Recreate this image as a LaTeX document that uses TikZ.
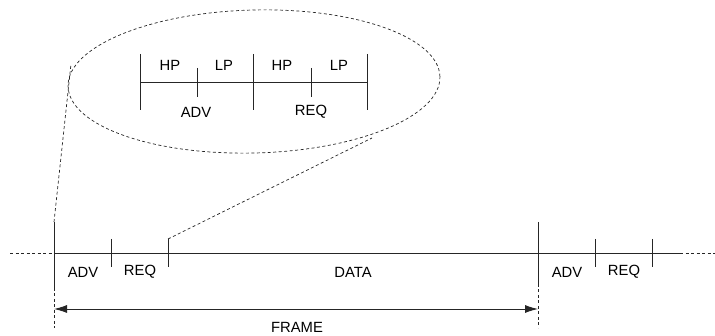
\documentclass[tikz,border=0pt]{standalone}
\usepackage{fontspec}
\setmainfont{Liberation Sans}
\usetikzlibrary{arrows.meta,shapes.geometric}
\begin{document}
\begin{tikzpicture}[x=1pt,y=-1pt,
  line/.style={line width=0.9pt,draw=black!85},
  dashline/.style={line width=0.7pt,draw=black!85,dash pattern=on 3pt off 2.5pt},
  lbl/.style={inner sep=0pt,font=\fontsize{14.8}{16}\selectfont},
  span/.style={line width=0.9pt,draw=black!85,{Latex[length=13pt,width=8pt]}-{Latex[length=13pt,width=8pt]}}]
\useasboundingbox (0,0) rectangle (715,336);

% main time line
\coordinate (lineL) at (10,253);
\coordinate (f0) at (54,253);
\coordinate (f1) at (538,253);
\coordinate (lineR) at (680,253);
\coordinate (lineE) at (715,253);
\draw[dashline] (lineL) -- (f0);
\draw[line] (f0) -- (lineR);
\draw[dashline] (lineR) -- (lineE);

% frame boundaries
\coordinate (f0top) at (54,222);
\coordinate (f0mid) at (54,288);
\coordinate (f0bot) at (54,328);
\coordinate (f1top) at (538,222);
\coordinate (f1mid) at (538,284);
\coordinate (f1bot) at (538,328);
\draw[line] (f0top) -- (f0mid);
\draw[dashline] (f0mid) -- (f0bot);
\draw[line] (f1top) -- (f1mid);
\draw[dashline] (f1mid) -- (f1bot);

% slot boundaries
\foreach \n/\x in {a/111,b/168,c/595,d/652}{
  \coordinate (\n top) at (\x,239);
  \coordinate (\n bot) at (\x,267);
  \draw[line] (\n top) -- (\n bot);
}

% slot labels
\node[lbl] (adv1) at (83,272) {ADV};
\node[lbl] (req1) at (140,272) {REQ};
\node[lbl] (data) at (353,272) {DATA};
\node[lbl] (adv2) at (567,272) {ADV};
\node[lbl] (req2) at (624,272) {REQ};

% frame span
\coordinate (arrL) at (54,309);
\coordinate (arrR) at (538,309);
\draw[span] (arrL) -- (arrR);
\node[lbl] (frame) at (297,327) {FRAME};

% magnified view
\node[draw=black!85,line width=0.7pt,dash pattern=on 3pt off 2.5pt,
      ellipse,minimum width=372pt,minimum height=143pt,inner sep=0pt,
      rotate=1.5] (zoom) at (254,81.5) {};
\coordinate (zl) at (71,64);
\coordinate (zr) at (372,138);
\draw[dashline] (f0top) -- (zl);
\draw[dashline] (btop) -- (zr);

\coordinate (iL) at (140,82);
\coordinate (iR) at (367,82);
\draw[line] (iL) -- (iR);
\foreach \n/\x in {p/140,q/253,r/367}{
  \coordinate (\n top) at (\x,54);
  \coordinate (\n bot) at (\x,110);
  \draw[line] (\n top) -- (\n bot);
}
\foreach \n/\x in {s/197,t/311}{
  \coordinate (\n top) at (\x,68);
  \coordinate (\n bot) at (\x,97);
  \draw[line] (\n top) -- (\n bot);
}
\node[lbl] (hp1) at (170,65) {HP};
\node[lbl] (lp1) at (224,65) {LP};
\node[lbl] (hp2) at (282,65) {HP};
\node[lbl] (lp2) at (339,65) {LP};
\node[lbl] (advi) at (196,112) {ADV};
\node[lbl] (reqi) at (311,112) {REQ};
\end{tikzpicture}
\end{document}
